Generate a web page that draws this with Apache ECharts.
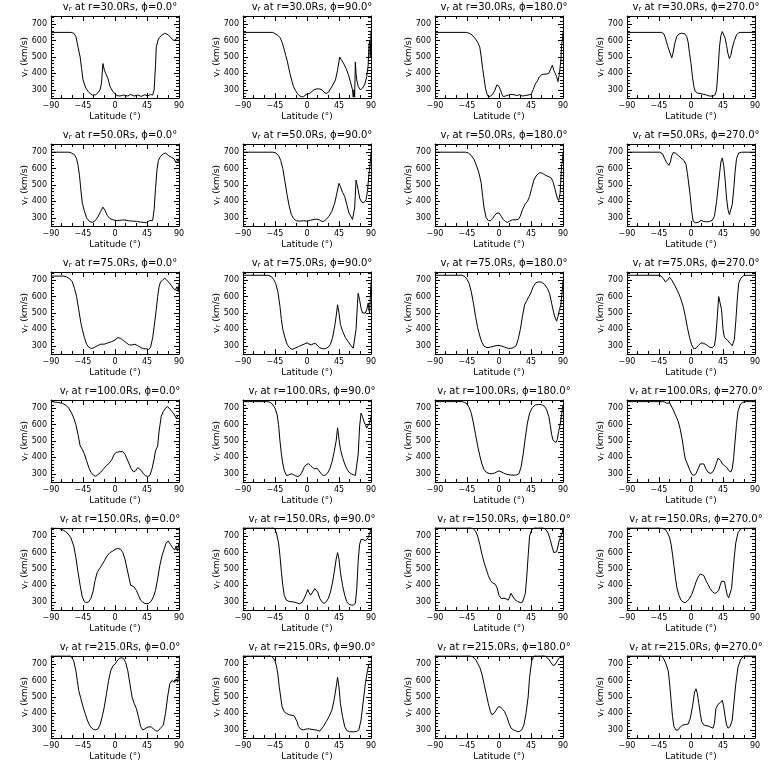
<!DOCTYPE html>
<html><head><meta charset="utf-8">
<script src="https://cdn.jsdelivr.net/npm/echarts@6/dist/echarts.min.js"></script>
<style>html,body{margin:0;padding:0;background:#fff}#c{width:768px;height:768px}</style>
</head><body><div id="c"></div>
<script>
const radii = [30, 50, 75, 100, 150, 215];
const phis = [0, 90, 180, 270];
const latTicks = [-90, -45, 0, 45, 90];
const vTicks = [300, 400, 500, 600, 700];
const vMinor = [260,280,320,340,360,380,420,440,460,480,520,540,560,580,620,640,660,680,720,740];

// [latitude (deg), v_r (km/s)]
const r30_p0 = [[-90,650],[-62,650],[-58,645],[-55,625],[-52,560],[-49,500],[-47,430],[-45,360],[-41,310],[-37,285],[-32,268],[-27,270],[-24,282],[-21,300],[-19,340],[-17,460],[-15,420],[-13,400],[-10,370],[-7,320],[-3,290],[0,275],[3,265],[7,262],[12,268],[18,262],[22,272],[27,262],[32,268],[37,260],[42,270],[46,262],[50,272],[53,268],[55,300],[57,450],[58,560],[61,610],[65,630],[70,645],[75,635],[79,615],[83,600],[85,590],[87,612],[90,620]];
const r30_p90 = [[-90,650],[-48,650],[-45,642],[-41,632],[-38,618],[-35,590],[-33,560],[-30,510],[-28,480],[-26,440],[-24,400],[-21,350],[-19,320],[-16,295],[-14,280],[-11,265],[-8,258],[-5,258],[-3,265],[0,275],[4,278],[7,290],[10,300],[14,306],[18,305],[21,300],[24,285],[27,277],[30,285],[33,305],[37,335],[40,360],[43,420],[46,500],[48,485],[51,465],[55,430],[58,395],[61,350],[64,300],[65,255],[66,300],[67,255],[68,470],[69,400],[70,360],[72,320],[75,300],[78,310],[81,330],[84,380],[86,450],[87,560],[88,600],[89,500],[90,660]];
const r30_p180 = [[-90,650],[-46,650],[-42,645],[-38,635],[-33,610],[-30,590],[-27,560],[-25,500],[-23,430],[-21,370],[-19,310],[-17,275],[-15,258],[-12,262],[-9,272],[-6,295],[-3,330],[0,320],[2,300],[4,275],[6,258],[9,262],[13,268],[17,272],[21,270],[25,265],[29,270],[33,262],[37,265],[41,268],[45,272],[48,300],[51,335],[54,355],[57,380],[60,392],[63,395],[67,396],[70,400],[73,430],[75,450],[77,420],[79,400],[81,380],[83,350],[84,360],[85,400],[86,390],[87,480],[88,570],[89,600],[90,650]];
const r30_p270 = [[-90,650],[-41,650],[-38,640],[-36,615],[-33,570],[-30,530],[-27,495],[-25,530],[-23,580],[-20,625],[-17,640],[-13,645],[-9,642],[-6,625],[-4,590],[-2,520],[0,460],[2,380],[4,320],[6,290],[9,280],[14,276],[18,272],[22,268],[26,262],[28,258],[31,262],[34,270],[36,300],[38,420],[40,560],[42,630],[44,655],[46,650],[48,615],[50,570],[52,520],[54,490],[56,510],[58,555],[61,600],[64,635],[67,648],[70,650],[90,650]];

const r50_p0 = [[-90,700],[-65,700],[-61,695],[-57,685],[-54,660],[-52,620],[-50,560],[-48,470],[-46,390],[-43,340],[-40,300],[-36,278],[-32,272],[-28,282],[-24,305],[-20,340],[-17,365],[-14,345],[-11,315],[-7,295],[-3,288],[0,285],[4,283],[9,286],[14,287],[19,282],[24,280],[30,278],[36,274],[41,272],[44,270],[46,278],[48,282],[50,275],[53,285],[55,350],[57,480],[59,590],[61,650],[64,675],[68,690],[71,695],[75,680],[79,670],[83,660],[86,635],[88,625],[89,660],[90,640]];
const r50_p90 = [[-90,700],[-48,700],[-44,695],[-40,680],[-37,650],[-34,600],[-31,520],[-28,440],[-25,370],[-22,320],[-19,295],[-15,282],[-10,280],[-5,282],[0,280],[5,285],[10,290],[14,292],[17,288],[20,280],[23,277],[27,290],[31,310],[35,340],[39,390],[42,450],[45,510],[47,490],[50,455],[53,430],[56,380],[59,330],[62,305],[64,290],[66,285],[67,360],[69,530],[70,510],[72,470],[74,420],[77,395],[80,392],[83,410],[85,460],[87,560],[89,640],[90,700]];
const r50_p180 = [[-90,700],[-47,700],[-43,695],[-39,680],[-35,655],[-31,610],[-28,570],[-25,510],[-23,430],[-21,360],[-18,300],[-15,283],[-12,282],[-9,295],[-6,315],[-3,328],[0,330],[3,310],[6,290],[9,277],[12,272],[15,280],[19,288],[23,288],[27,290],[30,310],[33,350],[37,385],[40,400],[43,430],[46,480],[49,530],[53,560],[57,575],[61,572],[65,560],[69,552],[73,545],[76,520],[79,470],[82,420],[84,405],[86,450],[88,620],[89,640],[90,700]];
const r50_p270 = [[-90,700],[-44,700],[-40,690],[-37,660],[-34,635],[-31,620],[-29,640],[-27,680],[-25,698],[-22,695],[-18,680],[-14,665],[-10,650],[-7,625],[-5,570],[-3,500],[-1,430],[1,340],[3,280],[6,270],[10,272],[14,284],[18,278],[22,275],[26,278],[30,285],[33,310],[36,400],[39,520],[42,640],[44,665],[46,620],[48,530],[50,420],[52,350],[54,320],[56,330],[58,380],[60,470],[62,580],[64,660],[67,695],[71,700],[90,700]];

const r75_p0 = [[-90,725],[-72,725],[-68,720],[-64,710],[-60,690],[-57,650],[-54,600],[-51,520],[-48,440],[-46,400],[-43,350],[-40,310],[-37,292],[-33,283],[-29,290],[-25,300],[-20,310],[-15,310],[-10,318],[-5,325],[0,335],[4,350],[8,345],[12,332],[16,318],[20,305],[24,305],[28,310],[32,300],[36,290],[40,282],[44,282],[47,278],[50,290],[53,350],[56,450],[58,520],[60,600],[62,660],[64,690],[67,700],[70,712],[73,700],[76,685],[79,670],[82,650],[85,640],[87,660],[89,630],[90,680]];
const r75_p90 = [[-90,730],[-55,730],[-50,722],[-47,705],[-44,680],[-41,630],[-38,540],[-36,460],[-34,400],[-31,350],[-28,310],[-25,290],[-21,278],[-17,285],[-12,295],[-7,305],[-3,312],[0,318],[3,310],[6,306],[9,312],[12,315],[15,300],[18,288],[22,282],[26,283],[30,292],[33,310],[36,350],[39,420],[41,480],[43,550],[45,500],[47,430],[50,390],[54,350],[58,325],[62,300],[65,285],[67,282],[69,400],[71,560],[72,620],[74,580],[76,530],[78,500],[80,490],[82,500],[84,520],[86,560],[88,500],[90,690]];
const r75_p180 = [[-90,730],[-52,730],[-48,722],[-45,705],[-42,680],[-39,630],[-36,560],[-33,480],[-30,410],[-27,360],[-24,320],[-21,298],[-17,288],[-12,292],[-7,298],[-3,302],[0,302],[4,298],[8,292],[12,285],[16,284],[20,288],[24,300],[27,340],[30,400],[33,480],[36,550],[39,575],[42,600],[45,625],[48,660],[52,685],[56,690],[60,688],[64,675],[68,650],[71,620],[74,560],[77,500],[79,470],[81,450],[83,480],[85,520],[87,550],[89,640],[90,700]];
const r75_p270 = [[-90,730],[-45,730],[-42,725],[-39,710],[-36,690],[-33,700],[-30,718],[-27,700],[-23,670],[-19,635],[-15,595],[-11,540],[-8,480],[-5,410],[-2,350],[1,305],[4,282],[7,285],[10,300],[14,318],[18,315],[22,305],[26,292],[30,288],[33,300],[35,360],[37,480],[39,600],[41,612],[43,520],[45,400],[47,350],[51,335],[55,315],[58,300],[61,340],[63,450],[65,580],[67,680],[70,712],[74,728],[78,730],[90,730]];

const r100_p0 = [[-90,740],[-80,735],[-74,730],[-69,718],[-65,700],[-61,670],[-58,640],[-55,600],[-52,540],[-49,470],[-46,450],[-43,420],[-40,380],[-37,340],[-34,310],[-30,290],[-27,285],[-24,295],[-20,310],[-16,330],[-12,350],[-8,365],[-4,390],[-1,420],[2,430],[6,435],[11,435],[14,420],[17,390],[20,360],[23,330],[26,312],[29,318],[32,338],[34,340],[37,320],[40,300],[43,288],[46,283],[49,290],[52,330],[55,390],[57,440],[60,470],[62,560],[65,650],[68,680],[71,700],[74,710],[77,695],[80,680],[83,665],[86,640],[88,630],[90,660]];
const r100_p90 = [[-90,740],[-55,740],[-51,735],[-48,720],[-45,700],[-42,660],[-40,600],[-38,500],[-36,420],[-34,360],[-32,320],[-29,290],[-26,292],[-22,300],[-19,295],[-16,288],[-13,283],[-10,290],[-7,310],[-4,340],[-1,355],[2,362],[5,350],[8,338],[11,330],[14,335],[17,318],[20,300],[23,290],[26,292],[29,305],[32,330],[35,370],[38,430],[41,500],[43,580],[45,510],[47,450],[50,400],[53,360],[56,330],[59,310],[62,300],[65,295],[68,290],[70,300],[72,420],[74,590],[76,670],[78,650],[80,620],[82,600],[84,580],[86,590],[88,610],[90,650]];
const r100_p180 = [[-90,740],[-52,740],[-48,735],[-45,725],[-42,705],[-39,670],[-36,610],[-33,540],[-30,470],[-27,410],[-24,360],[-21,325],[-18,310],[-14,302],[-10,300],[-6,305],[-3,312],[0,318],[3,312],[6,305],[10,298],[14,294],[18,292],[22,292],[25,293],[28,300],[31,340],[34,420],[37,520],[40,610],[43,670],[47,705],[51,720],[55,722],[60,722],[64,712],[67,690],[70,650],[72,600],[74,540],[76,505],[78,495],[80,490],[82,510],[84,560],[86,600],[88,660],[90,720]];
const r100_p270 = [[-90,740],[-40,740],[-37,738],[-34,730],[-32,720],[-30,732],[-28,720],[-25,690],[-22,660],[-18,620],[-15,570],[-12,500],[-10,440],[-8,390],[-5,360],[-2,325],[1,298],[4,290],[7,300],[10,330],[13,360],[15,370],[18,360],[21,330],[24,310],[27,302],[30,308],[33,330],[36,370],[38,395],[40,400],[42,380],[44,360],[47,350],[50,340],[53,320],[56,312],[58,330],[60,400],[62,500],[64,600],[66,680],[69,720],[72,735],[76,740],[90,740]];

const r150_p0 = [[-90,750],[-80,748],[-75,742],[-70,730],[-66,715],[-62,690],[-58,640],[-55,570],[-52,480],[-49,400],[-46,330],[-43,300],[-40,295],[-37,300],[-34,320],[-31,360],[-28,430],[-25,480],[-22,500],[-19,520],[-15,550],[-11,580],[-7,600],[-3,610],[0,620],[4,625],[8,620],[11,600],[14,560],[17,500],[20,440],[22,400],[24,390],[26,395],[28,385],[30,370],[33,340],[36,310],[39,298],[42,290],[45,288],[48,292],[51,305],[54,330],[57,370],[60,440],[63,520],[66,580],[69,620],[72,660],[75,670],[78,650],[81,630],[84,615],[86,640],[88,610],[90,660]];
const r150_p90 = [[-90,755],[-50,755],[-46,750],[-43,720],[-40,660],[-38,580],[-36,480],[-34,400],[-32,340],[-29,310],[-25,302],[-20,300],[-15,295],[-11,288],[-7,295],[-4,320],[-1,350],[1,375],[3,355],[5,340],[8,360],[11,380],[13,390],[15,360],[18,320],[21,300],[24,290],[27,300],[30,320],[33,360],[36,420],[39,500],[41,560],[43,600],[45,560],[47,480],[50,400],[53,340],[56,300],[59,285],[62,280],[65,280],[68,290],[70,380],[72,550],[74,650],[76,680],[79,680],[82,672],[84,670],[86,690],[88,700],[90,740]];
const r150_p180 = [[-90,755],[-45,755],[-40,752],[-36,745],[-33,730],[-30,700],[-27,650],[-24,590],[-21,540],[-18,500],[-15,460],[-12,430],[-9,415],[-6,410],[-3,390],[0,340],[3,320],[7,322],[10,318],[13,310],[15,330],[17,352],[19,335],[22,315],[26,302],[30,295],[33,298],[35,310],[37,350],[39,450],[41,580],[43,700],[46,740],[50,752],[55,755],[62,752],[66,740],[69,720],[72,680],[75,630],[77,600],[79,598],[81,605],[83,640],[85,680],[87,700],[89,720],[90,750]];
const r150_p270 = [[-90,755],[-50,755],[-45,752],[-40,748],[-36,740],[-33,720],[-30,690],[-28,650],[-26,590],[-24,520],[-22,450],[-20,390],[-17,340],[-14,310],[-11,298],[-8,295],[-5,305],[-2,320],[1,345],[4,380],[7,420],[10,450],[13,470],[15,475],[18,460],[21,430],[24,405],[27,380],[30,362],[33,352],[36,355],[39,370],[41,400],[43,425],[45,435],[47,425],[49,380],[51,340],[53,325],[55,330],[57,380],[59,480],[61,580],[63,660],[66,720],[70,745],[75,750],[80,748],[85,750],[90,750]];

const r215_p0 = [[-90,755],[-66,755],[-62,750],[-58,720],[-55,660],[-53,600],[-51,540],[-48,490],[-45,440],[-42,400],[-39,360],[-36,330],[-33,312],[-30,302],[-27,300],[-24,305],[-21,330],[-18,380],[-15,440],[-12,520],[-9,600],[-6,660],[-3,690],[0,700],[3,720],[6,735],[9,740],[12,735],[15,710],[18,660],[21,580],[24,500],[27,460],[30,430],[33,380],[36,320],[39,300],[42,305],[45,315],[48,318],[51,318],[54,305],[57,295],[60,292],[62,302],[65,315],[68,330],[71,400],[74,500],[77,580],[80,600],[82,595],[84,590],[86,610],[88,590],[90,660]];
const r215_p90 = [[-90,755],[-55,755],[-51,752],[-48,740],[-45,720],[-43,690],[-41,640],[-39,560],[-37,500],[-35,440],[-32,410],[-29,400],[-25,392],[-21,388],[-18,385],[-16,375],[-14,350],[-12,320],[-9,305],[-5,300],[-1,305],[3,306],[7,302],[11,300],[15,296],[18,292],[20,290],[23,320],[27,350],[31,380],[35,420],[38,480],[41,560],[43,620],[45,560],[47,460],[50,380],[53,320],[56,295],[60,288],[65,288],[70,290],[73,300],[76,360],[79,470],[82,580],[85,660],[87,700],[89,710],[90,700]];
const r215_p180 = [[-90,755],[-45,755],[-41,752],[-37,745],[-33,730],[-30,705],[-27,680],[-24,640],[-21,580],[-18,520],[-15,460],[-12,410],[-10,392],[-7,400],[-4,420],[-1,440],[2,440],[5,425],[8,410],[11,380],[14,340],[17,310],[20,300],[23,295],[26,288],[29,290],[32,300],[35,330],[38,400],[41,500],[43,620],[46,720],[49,750],[53,755],[60,755],[65,750],[70,730],[73,710],[76,692],[79,698],[82,720],[85,740],[88,748],[90,750]];
const r215_p270 = [[-90,755],[-45,755],[-41,750],[-38,730],[-35,700],[-32,660],[-30,580],[-28,480],[-26,380],[-24,320],[-21,298],[-18,300],[-15,318],[-12,328],[-8,332],[-4,335],[-1,370],[2,440],[5,530],[7,550],[9,520],[11,460],[13,400],[15,350],[18,330],[21,325],[25,322],[28,315],[31,310],[33,340],[35,430],[38,455],[41,465],[44,480],[46,440],[48,380],[50,330],[52,310],[55,320],[58,360],[60,450],[63,580],[66,680],[70,730],[74,750],[78,755],[90,755]];

const panels = [
  [r30_p0, r30_p90, r30_p180, r30_p270],
  [r50_p0, r50_p90, r50_p180, r50_p270],
  [r75_p0, r75_p90, r75_p180, r75_p270],
  [r100_p0, r100_p90, r100_p180, r100_p270],
  [r150_p0, r150_p90, r150_p180, r150_p270],
  [r215_p0, r215_p90, r215_p180, r215_p270]
];

const FONT = 'DejaVu Sans';
const BLACK = '#000';
const subRich = { s: { fontFamily: FONT, fontSize: 7, color: BLACK, verticalAlign: 'bottom', padding: [4, 0, 0, 0] } };

const grids = [], xAxes = [], yAxes = [], series = [], titles = [];
const PLOT_W = 128, PLOT_H = 82;

radii.forEach((r, ri) => {
  phis.forEach((p, ci) => {
    const g = ri * 4 + ci;
    const left = 51 + 192 * ci, top = 16 + 128 * ri;
    grids.push({ left: left, top: top, width: PLOT_W, height: PLOT_H, containLabel: false });

    const xBase = {
      gridIndex: g, type: 'value', min: -90, max: 90, interval: 45,
      axisLine: { show: true, onZero: false, lineStyle: { color: BLACK, width: 1 } },
      axisTick: { show: true, inside: true, length: 5, lineStyle: { color: BLACK, width: 1 } },
      minorTick: { show: true, splitNumber: 3, length: 3, lineStyle: { color: BLACK, width: 1 } },
      splitLine: { show: false }, minorSplitLine: { show: false }
    };
    xAxes.push(Object.assign({}, xBase, {
      position: 'bottom',
      axisLabel: { show: true, color: BLACK, fontFamily: FONT, fontSize: 8, margin: 4,
        customValues: latTicks, formatter: v => (v < 0 ? '\u2212' + Math.abs(v) : '' + v) },
      name: 'Latitude (\u00B0)', nameLocation: 'middle', nameGap: 14, nameMoveOverlap: false,
      nameTextStyle: { color: BLACK, fontFamily: FONT, fontSize: 9 }
    }));
    xAxes.push(Object.assign({}, xBase, { position: 'top', axisLabel: { show: false } }));

    const yBase = {
      gridIndex: g, type: 'value', min: 250, max: 750, interval: 50,
      splitLine: { show: false }, minorTick: { show: false }
    };
    yAxes.push(Object.assign({}, yBase, {
      position: 'left',
      axisLine: { show: true, onZero: false, lineStyle: { color: BLACK, width: 1 } },
      axisTick: { show: true, inside: true, length: 5, customValues: vTicks, lineStyle: { color: BLACK, width: 1 } },
      axisLabel: { show: true, customValues: vTicks, color: BLACK, fontFamily: FONT, fontSize: 8, margin: 4 },
      name: 'v{s|r} (km/s)', nameLocation: 'middle', nameGap: 21, nameRotate: 90, nameMoveOverlap: false,
      nameTextStyle: { color: BLACK, fontFamily: FONT, fontSize: 9, rich: subRich }
    }));
    yAxes.push(Object.assign({}, yBase, {
      position: 'right',
      axisLine: { show: true, onZero: false, lineStyle: { color: BLACK, width: 1 } },
      axisTick: { show: true, inside: true, length: 5, customValues: vTicks, lineStyle: { color: BLACK, width: 1 } },
      axisLabel: { show: false }
    }));
    yAxes.push(Object.assign({}, yBase, {
      position: 'left',
      axisLine: { show: false, onZero: false },
      axisTick: { show: true, inside: true, length: 3, customValues: vMinor, lineStyle: { color: BLACK, width: 1 } },
      axisLabel: { show: false }
    }));
    yAxes.push(Object.assign({}, yBase, {
      position: 'right',
      axisLine: { show: false, onZero: false },
      axisTick: { show: true, inside: true, length: 3, customValues: vMinor, lineStyle: { color: BLACK, width: 1 } },
      axisLabel: { show: false }
    }));

    series.push({
      type: 'line', xAxisIndex: g * 2, yAxisIndex: g * 4,
      data: panels[ri][ci], showSymbol: false, symbol: 'none', clip: true,
      lineStyle: { color: BLACK, width: 1 }, animation: false, silent: true
    });

    titles.push({
      text: 'v{s|r} at r=' + r.toFixed(1) + 'Rs, \u03D5=' + p.toFixed(1) + '\u00B0',
      left: left + PLOT_W / 2, top: top - 19, textAlign: 'center',
      textStyle: { color: BLACK, fontFamily: FONT, fontSize: 10, fontWeight: 'normal', rich: subRich }
    });
  });
});

const chart = echarts.init(document.getElementById('c'), null, { renderer: 'canvas' });
chart.setOption({
  backgroundColor: '#fff',
  animation: false,
  title: titles,
  grid: grids,
  xAxis: xAxes,
  yAxis: yAxes,
  series: series
});
</script>
</body></html>
